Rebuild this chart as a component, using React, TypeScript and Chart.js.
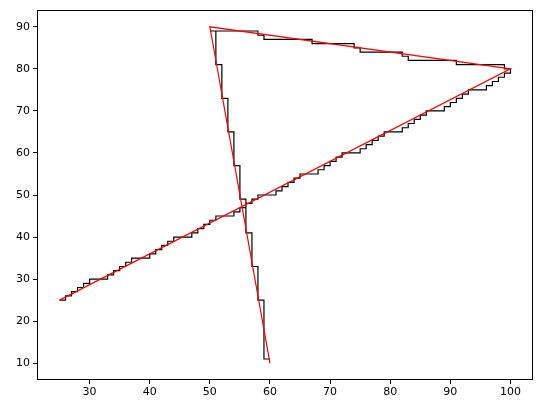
import React, { useEffect, useRef } from "react";
import { Chart, registerables } from "chart.js";

Chart.register(...registerables);

// Red polyline vertices
const redX = [60, 50, 100, 25];
const redY = [10, 90, 80, 25];

// Black staircase vertices (horizontal move first, then vertical)
const stairX = [
  60, 59, 58, 57, 56, 55, 54, 53, 52, 51, 50,
  58, 59, 67, 74, 75, 82, 83, 91, 99,
  100, 99, 98, 97, 96, 93, 92, 91, 90, 89, 86, 85, 84, 83, 82,
  79, 78, 77, 76, 75, 72, 71, 70, 69, 68, 65, 64, 63, 62, 61,
  58, 57, 56, 55, 54, 51, 50, 49, 48, 47, 44, 43, 42, 41, 40,
  37, 36, 35, 34, 33, 30, 29, 28, 27, 26, 25,
];
const stairY = [
  11, 25, 33, 41, 49, 57, 65, 73, 81, 89, 89,
  88, 87, 86, 85, 84, 83, 82, 81, 80,
  79, 78, 77, 76, 75, 74, 73, 72, 71, 70, 69, 68, 67, 66, 65,
  64, 63, 62, 61, 60, 59, 58, 57, 56, 55, 54, 53, 52, 51, 50,
  49, 48, 47, 46, 45, 44, 43, 42, 41, 40, 39, 38, 37, 36, 35,
  34, 33, 32, 31, 30, 29, 28, 27, 26, 25, 25,
];

const xTicks = [30, 40, 50, 60, 70, 80, 90, 100];
const yTicks = [10, 20, 30, 40, 50, 60, 70, 80, 90];

const W = 543;
const H = 413;

export default function App() {
  const ref = useRef<HTMLCanvasElement | null>(null);

  useEffect(() => {
    document.body.style.margin = "0";
    const canvas = ref.current;
    if (!canvas) return;

    const stairPts = stairX.map((x, i) => ({ x, y: stairY[i] }));
    const redPts = redX.map((x, i) => ({ x, y: redY[i] }));

    const frame = {
      id: "frame",
      afterDatasetsDraw(chart: any) {
        const { ctx, chartArea } = chart;
        ctx.save();
        ctx.strokeStyle = "#000";
        ctx.lineWidth = 1;
        ctx.strokeRect(
          Math.round(chartArea.left) + 0.5,
          Math.round(chartArea.top) + 0.5,
          Math.round(chartArea.right - chartArea.left) - 1,
          Math.round(chartArea.bottom - chartArea.top) - 1
        );
        ctx.restore();
      },
    };

    const chart = new Chart(canvas, {
      type: "line",
      data: {
        datasets: [
          {
            data: redPts,
            borderColor: "#ff0000",
            borderWidth: 1.2,
            pointRadius: 0,
            tension: 0,
            fill: false,
            order: 0,
          },
          {
            data: stairPts,
            borderColor: "#000000",
            borderWidth: 1.2,
            pointRadius: 0,
            tension: 0,
            fill: false,
            stepped: "before",
            order: 1,
          },
        ],
      },
      options: {
        responsive: false,
        animation: false,
        devicePixelRatio: 1,
        layout: { padding: { left: 0, top: 10, right: 10, bottom: 0 } },
        plugins: {
          legend: { display: false },
          tooltip: { enabled: false },
        },
        scales: {
          x: {
            type: "linear",
            min: 21.25,
            max: 103.75,
            afterBuildTicks: (s: any) => {
              s.ticks = xTicks.map((v) => ({ value: v }));
            },
            afterFit: (s: any) => {
              s.height = 33;
            },
            grid: {
              drawOnChartArea: false,
              drawTicks: true,
              tickLength: 4,
              color: "#000",
            },
            border: { display: false },
            ticks: {
              color: "#000",
              padding: 2,
              maxRotation: 0,
              font: { family: "DejaVu Sans", size: 11 },
            },
          },
          y: {
            type: "linear",
            min: 6,
            max: 94,
            afterBuildTicks: (s: any) => {
              s.ticks = yTicks.map((v) => ({ value: v }));
            },
            afterFit: (s: any) => {
              s.width = 37;
            },
            grid: {
              drawOnChartArea: false,
              drawTicks: true,
              tickLength: 4,
              color: "#000",
            },
            border: { display: false },
            ticks: {
              color: "#000",
              padding: 3,
              font: { family: "DejaVu Sans", size: 11 },
            },
          },
        },
      },
      plugins: [frame],
    });

    return () => chart.destroy();
  }, []);

  return (
    <div style={{ position: "absolute", left: 0, top: 0, width: W, height: H, background: "#fff" }}>
      <canvas ref={ref} width={W} height={H} style={{ width: W, height: H }} />
    </div>
  );
}
